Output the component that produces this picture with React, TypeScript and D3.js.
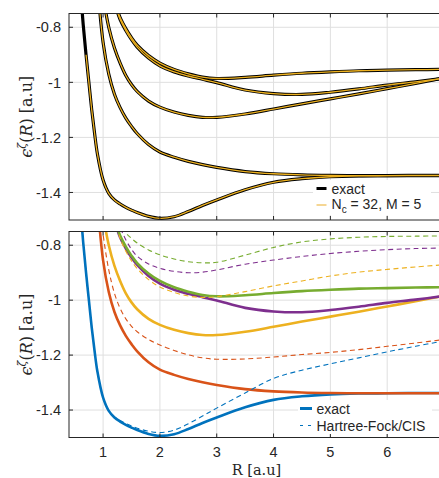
import React from "react";
import * as d3 from "d3";

// Internuclear distance grid (a.u.)
const R = [0.55, 0.6, 0.65, 0.7, 0.75, 0.8, 0.85, 0.9, 1.0, 1.1, 1.2, 1.3, 1.4, 1.5, 1.6, 1.8, 2.0, 2.25, 2.5, 2.75, 3.0, 3.5, 4.0, 4.5, 5.0, 5.5, 6.0, 6.5, 7.0];
const N = null;

// exact energies (bottom solid lines / top black lines)
const exact0 = [N, -0.66, -0.79, -0.9, -1.0, -1.1, -1.185, -1.26, -1.355, -1.403, -1.427, -1.442, -1.454, -1.464, -1.473, -1.487, -1.494, -1.488, -1.469, -1.447, -1.427, -1.39, -1.363, -1.35, -1.343, -1.34, -1.339, -1.338, -1.338];
const exact1 = [N, N, N, N, N, N, N, -0.64, -0.855, -0.97, -1.043, -1.092, -1.13, -1.16, -1.186, -1.226, -1.253, -1.272, -1.287, -1.299, -1.309, -1.324, -1.332, -1.336, -1.338, -1.339, -1.339, -1.339, -1.339];
const exact2 = [N, N, N, N, N, N, N, N, -0.69, -0.8, -0.875, -0.93, -0.975, -1.008, -1.033, -1.068, -1.09, -1.108, -1.12, -1.127, -1.127, -1.115, -1.097, -1.078, -1.06, -1.042, -1.023, -1.004, -0.984];
const exact3 = [N, N, N, N, N, N, N, N, N, N, -0.71, -0.772, -0.812, -0.845, -0.872, -0.912, -0.94, -0.962, -0.977, -0.989, -1.001, -1.028, -1.041, -1.044, -1.036, -1.024, -1.01, -0.998, -0.985];
const exact4 = [N, N, N, N, N, N, N, N, N, N, -0.705, -0.765, -0.805, -0.838, -0.865, -0.903, -0.93, -0.953, -0.969, -0.981, -0.986, -0.982, -0.974, -0.967, -0.962, -0.958, -0.956, -0.954, -0.953];

// Hartree-Fock / CIS energies (dashed)
const hf0 = [N, -0.66, -0.79, -0.9, -1.0, -1.1, -1.185, -1.26, -1.355, -1.403, -1.425, -1.438, -1.449, -1.458, -1.466, -1.477, -1.482, -1.473, -1.45, -1.422, -1.393, -1.338, -1.285, -1.255, -1.232, -1.21, -1.188, -1.168, -1.148];
const hf1 = [N, N, N, N, N, N, N, -0.58, -0.76, -0.89, -0.975, -1.03, -1.068, -1.095, -1.115, -1.143, -1.163, -1.183, -1.199, -1.21, -1.215, -1.214, -1.207, -1.198, -1.19, -1.18, -1.168, -1.156, -1.143];
const hf2 = [N, N, N, N, N, N, N, N, N, N, -0.7, -0.775, -0.822, -0.857, -0.885, -0.925, -0.952, -0.972, -0.985, -0.99, -0.987, -0.969, -0.948, -0.93, -0.912, -0.898, -0.888, -0.879, -0.871];
const hf3 = [N, N, N, N, N, N, N, N, N, N, -0.68, -0.735, -0.78, -0.815, -0.84, -0.868, -0.884, -0.895, -0.9, -0.898, -0.89, -0.869, -0.854, -0.841, -0.83, -0.822, -0.816, -0.812, -0.81];
const hf4 = [N, N, N, N, N, N, N, N, N, N, -0.68, -0.725, -0.755, -0.775, -0.792, -0.817, -0.835, -0.85, -0.86, -0.864, -0.862, -0.836, -0.808, -0.788, -0.777, -0.771, -0.768, -0.767, -0.766];

// N_c = 32, M = 5 approximation computed from this R on
const ncRmin = 0.7;

const xTicks = [1, 2, 3, 4, 5, 6];
const yTicks = [-0.8, -1, -1.2, -1.4];
const xDomain = [0.4, 7];
const yDomain = [-1.5, -0.75];

const colors = ["#0072BD", "#D95319", "#EDB120", "#7E2F8E", "#77AC30"];
const exactSeries = [exact0, exact1, exact2, exact3, exact4];
const hfSeries = [hf0, hf1, hf2, hf3, hf4];

const W = 439, H = 478;
const left = 69, rightR = 444;
const topPanel = { y0: 13.5, y1: 220 };
const botPanel = { y0: 231.5, y1: 437.5 };

const sans = "'Liberation Sans', Arial, Helvetica, sans-serif";
const serif = "'DejaVu Serif', 'Liberation Serif', serif";
const axisCol = "#262626";

const x = d3.scaleLinear().domain(xDomain).range([left, rightR]);

function pts(vals: (number | null)[], rmin = -Infinity) {
  return R.map((r, i) => [r, vals[i]] as [number, number | null]).filter((d) => d[0] >= rmin);
}

function Panel({ p, id, children, xLabels }: any) {
  const y = d3.scaleLinear().domain(yDomain).range([p.y1, p.y0]);
  return (
    <g>
      <defs>
        <clipPath id={id}>
          <rect x={left} y={p.y0} width={rightR - left} height={p.y1 - p.y0} />
        </clipPath>
      </defs>
      <rect x={left} y={p.y0} width={rightR - left} height={p.y1 - p.y0} fill="#fff" />
      {xTicks.map((t) => (
        <line key={"gx" + t} x1={x(t)} x2={x(t)} y1={p.y0} y2={p.y1} stroke="#dfdfdf" strokeWidth={1} />
      ))}
      {yTicks.map((t) => (
        <line key={"gy" + t} x1={left} x2={rightR} y1={y(t)} y2={y(t)} stroke="#dfdfdf" strokeWidth={1} />
      ))}
      <g clipPath={`url(#${id})`}>{children(y)}</g>
      <rect x={left} y={p.y0} width={rightR - left} height={p.y1 - p.y0} fill="none" stroke={axisCol} strokeWidth={1} />
      {xTicks.map((t) => (
        <g key={"tx" + t}>
          <line x1={x(t)} x2={x(t)} y1={p.y1} y2={p.y1 - 4} stroke={axisCol} />
          <line x1={x(t)} x2={x(t)} y1={p.y0} y2={p.y0 + 4} stroke={axisCol} />
        </g>
      ))}
      {yTicks.map((t) => (
        <g key={"ty" + t}>
          <line x1={left} x2={left + 4} y1={y(t)} y2={y(t)} stroke={axisCol} />
          <text x={left - 8} y={y(t)} dy="0.36em" textAnchor="end" fontFamily={sans} fontSize={14.5} fill={axisCol}>
            {String(t)}
          </text>
        </g>
      ))}
      {xLabels &&
        xTicks.map((t) => (
          <text key={"lx" + t} x={x(t)} y={p.y1 + 19.5} textAnchor="middle" fontFamily={sans} fontSize={14.5} fill={axisCol}>
            {t}
          </text>
        ))}
      <text
        transform={`translate(31.5,${(p.y0 + p.y1) / 2}) rotate(-90)`}
        textAnchor="middle"
        fontFamily={serif}
        fontSize={16}
        fill={axisCol}
      >
        <tspan fontStyle="italic">ϵ</tspan>
        <tspan fontStyle="italic" fontSize={11} dy={-6}>ζ</tspan>
        <tspan dy={6}>(</tspan>
        <tspan fontStyle="italic">R</tspan>
        <tspan>) [a.u]</tspan>
      </text>
    </g>
  );
}

export default function App() {
  const mkLine = (y: any) =>
    d3
      .line<[number, number | null]>()
      .defined((d) => d[1] != null)
      .x((d) => x(d[0]))
      .y((d) => y(d[1] as number))
      .curve(d3.curveCatmullRom.alpha(0.5));

  return (
    <svg width={W} height={H} style={{ position: "absolute", left: 0, top: 0, background: "#fff" }}>
      <rect width={W} height={H} fill="#fff" />
      <Panel p={topPanel} id="clipTop" xLabels={false}>
        {(y: any) => {
          const line = mkLine(y);
          return (
            <g fill="none">
              {exactSeries.map((s, i) => (
                <path key={"tb" + i} d={line(pts(s)) || ""} stroke="#000" strokeWidth={3.2} />
              ))}
              {exactSeries.map((s, i) => (
                <path key={"to" + i} d={line(pts(s, ncRmin)) || ""} stroke={colors[2]} strokeWidth={1.3} />
              ))}
            </g>
          );
        }}
      </Panel>
      <Panel p={botPanel} id="clipBot" xLabels={true}>
        {(y: any) => {
          const line = mkLine(y);
          return (
            <g fill="none">
              {exactSeries.map((s, i) => (
                <path key={"be" + i} d={line(pts(s)) || ""} stroke={colors[i]} strokeWidth={2.6} />
              ))}
              {hfSeries.map((s, i) => (
                <path key={"bh" + i} d={line(pts(s)) || ""} stroke={colors[i]} strokeWidth={1.1} strokeDasharray="5,3.5" />
              ))}
            </g>
          );
        }}
      </Panel>
      {/* top legend */}
      <rect x={313} y={180} width={118} height={35} fill="#fff" />
      <line x1={316.5} x2={326.5} y1={188.5} y2={188.5} stroke="#000" strokeWidth={3} />
      <text x={331.5} y={188.5} dy="0.36em" fontFamily={sans} fontSize={14} fill={axisCol}>exact</text>
      <line x1={316.5} x2={326.5} y1={205} y2={205} stroke="#F2C870" strokeWidth={1.5} />
      <text x={331.5} y={204} dy="0.36em" fontFamily={sans} fontSize={14} fill={axisCol}>
        N<tspan fontSize={10} dy={4}>c</tspan>
        <tspan dy={-4}> = 32, M = 5</tspan>
      </text>
      {/* bottom legend */}
      <rect x={298} y={400} width={134} height={34} fill="#fff" />
      <line x1={300} x2={312} y1={408.5} y2={408.5} stroke={colors[0]} strokeWidth={3} />
      <text x={316.5} y={408.5} dy="0.36em" fontFamily={sans} fontSize={14} fill={axisCol}>exact</text>
      <line x1={300} x2={312} y1={425.5} y2={425.5} stroke={colors[0]} strokeWidth={1.1} strokeDasharray="3,5" />
      <text x={316.5} y={425.5} dy="0.36em" fontFamily={sans} fontSize={14} fill={axisCol}>Hartree-Fock/CIS</text>
      {/* x label */}
      <text x={256.5} y={474.5} textAnchor="middle" fontFamily={serif} fontSize={14.5} fill={axisCol}>
        R [a.u]
      </text>
    </svg>
  );
}
